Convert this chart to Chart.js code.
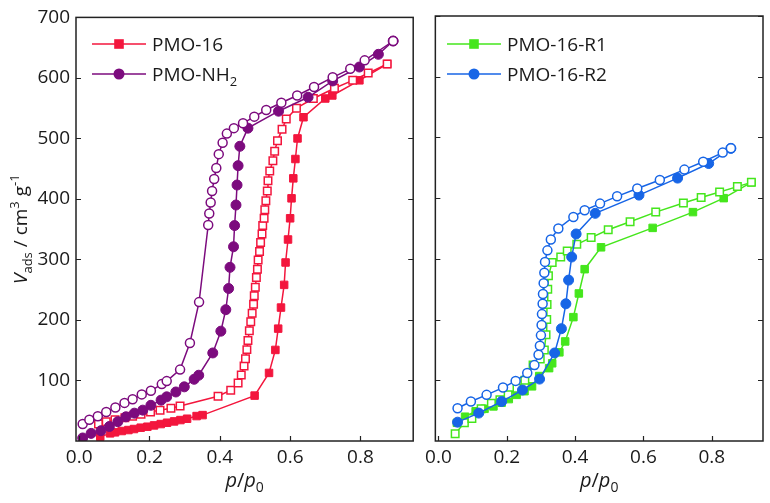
<!DOCTYPE html>
<html><head><meta charset="utf-8">
<script src="https://cdn.jsdelivr.net/npm/chart.js@4.4.0/dist/chart.umd.min.js"></script>
<style>
html,body{margin:0;padding:0;background:#fff;width:770px;height:503px;overflow:hidden}
#c1{position:absolute;left:0;top:0;width:420px;height:503px}
#c2{position:absolute;left:420px;top:0;width:350px;height:503px}
</style></head><body>
<canvas id="c1" width="420" height="503"></canvas>
<canvas id="c2" width="350" height="503"></canvas>
<script>
// ---- tick labels ----
const X_TICKS = [0, 0.2, 0.4, 0.6, 0.8];
const Y_TICKS = [100, 200, 300, 400, 500, 600, 700];

// ---- PMO-16 (adsorption filled, desorption open) ----
const P16_ADS_P = [0.060,0.088,0.102,0.121,0.140,0.156,0.175,0.194,0.213,0.232,0.250,0.270,0.288,0.307,0.334,0.351,0.499,0.540,0.558,0.566,0.574,0.583,0.587,0.594,0.600,0.604,0.609,0.615,0.621,0.638,0.700,0.720,0.797,0.876];
const P16_ADS_V = [7,12.6,14.3,16.5,18.1,19.8,22,23.6,25.8,28,30.2,32.4,34.6,36.8,41.2,42.8,75,112.5,150.5,185.7,220.5,258,295,333,368,401,434,466,500,535,566,571,596,623];
const P16_DES_P = [0.055,0.077,0.102,0.130,0.152,0.176,0.203,0.230,0.261,0.287,0.395,0.431,0.452,0.461,0.469,0.473,0.477,0.480,0.484,0.488,0.492,0.496,0.498,0.501,0.504,0.507,0.509,0.513,0.516,0.520,0.522,0.526,0.528,0.531,0.535,0.537,0.542,0.551,0.556,0.564,0.577,0.589,0.618,0.666,0.726,0.778,0.822,0.876];
const P16_DES_V = [28,32,35,38.4,41,44,48,51,54,58,74,84,96,109,124,136,151,166,182,197,211,226,240,254,270,284,299,313,328,342,356,368,382,397,413,430,446,463,479,496,515,532,550,566,583,596,608,623];

// ---- PMO-NH2 ----
const NH2_ADS_P = [0.010,0.034,0.062,0.086,0.110,0.133,0.157,0.181,0.204,0.233,0.249,0.275,0.299,0.327,0.340,0.380,0.403,0.417,0.425,0.429,0.439,0.442,0.446,0.449,0.452,0.457,0.480,0.567,0.651,0.721,0.797,0.851,0.893];
const NH2_ADS_V = [5,12.6,17,24,32,40,46,51,59,67.5,73,81,89.5,102,108.7,145.5,181.5,217,252,287,321,356,390,423,455,487,517,545,568,595,618,639,661];
const NH2_DES_P = [0.010,0.029,0.053,0.077,0.103,0.129,0.152,0.178,0.204,0.235,0.249,0.287,0.315,0.341,0.367,0.370,0.374,0.378,0.384,0.390,0.397,0.408,0.420,0.440,0.466,0.498,0.532,0.575,0.620,0.668,0.721,0.771,0.812,0.893];
const NH2_DES_V = [28,35,41,48,55.5,63,69,77,83,94,99,118,162,229.5,357,376,394,413,433,451,474,493,508,517,525,536,547,559,571,585,601,615,629,661];

// ---- PMO-16-R1 ----
const R1_ADS_P = [0.054,0.078,0.109,0.135,0.161,0.185,0.206,0.229,0.252,0.274,0.295,0.324,0.333,0.354,0.371,0.395,0.411,0.428,0.476,0.627,0.745,0.835,0.916];
const R1_ADS_V = [30,40,49,53,57,63,69,76,82,90,107,120,128,146,164,204,243,283,319,351,377,400,426];
const R1_DES_P = [0.049,0.076,0.098,0.125,0.155,0.180,0.204,0.230,0.253,0.277,0.298,0.310,0.315,0.317,0.318,0.320,0.322,0.333,0.358,0.377,0.405,0.447,0.497,0.561,0.636,0.717,0.769,0.823,0.875,0.916];
const R1_DES_V = [12,30,37,53,62,68,76,87,100,125,135,150,175,200,225,250,272,294,303,313,324,335,348,361,377,392,401,410,419,426];

// ---- PMO-16-R2 ----
const R2_ADS_P = [0.056,0.118,0.185,0.246,0.296,0.340,0.360,0.373,0.381,0.390,0.403,0.459,0.587,0.700,0.791,0.856];
const R2_ADS_V = [31,46,65,84,102,145,185,226,265,303,341,375,405,433,457,482];
const R2_DES_P = [0.056,0.095,0.141,0.189,0.226,0.260,0.281,0.293,0.297,0.300,0.302,0.303,0.305,0.306,0.308,0.310,0.312,0.319,0.329,0.351,0.395,0.428,0.473,0.523,0.582,0.648,0.720,0.775,0.832,0.856];
const R2_DES_V = [54,65,76,88,99,112,125,142,157,174,191,209,226,242,260,277,295,314,332,350,369,380,391,403,416,430,447,460,475,482];

const RED = '#f3163d', PURPLE = '#7c0b7e', GREEN = '#45e61c', BLUE = '#1765e6';
const FONT = "'Open Sans', sans-serif";
const TXT = '#1a1a1a';

Chart.defaults.font.family = FONT;
Chart.defaults.font.size = 19;
Chart.defaults.color = TXT;

function ds(P, V, color, style, filled) {
  const isRect = style === 'rect';
  return {
    data: P.map((x, i) => ({ x: x, y: V[i] })),
    showLine: true,
    borderColor: color,
    borderWidth: 1.5,
    backgroundColor: filled ? color : '#fff',
    pointStyle: style,
    pointRadius: isRect ? 5.3 : (filled ? 5 : 4.5),
    pointBorderWidth: filled ? 1 : 1.5,
    pointBackgroundColor: filled ? color : '#fff',
    pointBorderColor: color,
    tension: 0
  };
}

function richWidth(ctx, parts, size, small) {
  let w = 0;
  for (const p of parts) {
    ctx.font = (p.it ? 'italic ' : '') + ((p.sub || p.sup) ? small : size) + 'px ' + FONT;
    w += ctx.measureText(p.t).width;
  }
  return w;
}
function drawRich(ctx, parts, x, y, size, small, align) {
  let w = richWidth(ctx, parts, size, small);
  let cx = align === 'center' ? x - w / 2 : x;
  ctx.textBaseline = 'alphabetic';
  ctx.textAlign = 'left';
  ctx.fillStyle = TXT;
  for (const p of parts) {
    ctx.font = (p.it ? 'italic ' : '') + ((p.sub || p.sup) ? small : size) + 'px ' + FONT;
    const dy = p.sub ? 5 : (p.sup ? -8 : 0);
    ctx.fillText(p.t, cx, y + dy);
    cx += ctx.measureText(p.t).width;
  }
}

function framePlugin(showYTitle, legendItems, legendX) {
  return {
    id: 'frame',
    afterDatasetsDraw(chart) {
      const ctx = chart.ctx, a = chart.chartArea;
      const xs = chart.scales.x, ys = chart.scales.y;
      ctx.save();
      ctx.strokeStyle = '#222';
      ctx.lineWidth = 1.5;
      ctx.strokeRect(a.left, a.top, a.right - a.left, a.bottom - a.top);
      ctx.beginPath();
      const L = 5;
      for (const v of X_TICKS) {
        const px = Math.round(xs.getPixelForValue(v)) + 0.5;
        ctx.moveTo(px, a.bottom); ctx.lineTo(px, a.bottom - L);
      }
      for (const v of Y_TICKS) {
        const py = Math.round(ys.getPixelForValue(v)) + 0.5;
        ctx.moveTo(a.left, py); ctx.lineTo(a.left + L, py);
        ctx.moveTo(a.right, py); ctx.lineTo(a.right - L, py);
      }
      ctx.lineWidth = 1.2;
      ctx.stroke();

      // x title
      drawRich(ctx, [{t:'p',it:true},{t:'/'},{t:'p',it:true},{t:'0',sub:true}],
        (a.left + a.right) / 2, 487, 20, 14, 'center');
      // y title
      if (showYTitle) {
        ctx.save();
        ctx.translate(27, (a.top + a.bottom) / 2);
        ctx.rotate(-Math.PI / 2);
        drawRich(ctx, [{t:'V',it:true},{t:'ads',sub:true},{t:' / cm'},{t:'3',sup:true},{t:' g'},{t:'-1',sup:true}],
          0, 0, 19, 13, 'center');
        ctx.restore();
      }
      // legend
      legendItems.forEach((it, i) => {
        const y = 44 + i * 30;
        ctx.strokeStyle = it.color;
        ctx.lineWidth = 1.5;
        ctx.beginPath();
        ctx.moveTo(legendX, y); ctx.lineTo(legendX + 54, y);
        ctx.stroke();
        ctx.fillStyle = it.color;
        const mx = legendX + 27;
        if (it.style === 'rect') {
          ctx.fillRect(mx - 4.8, y - 4.8, 9.6, 9.6);
        } else {
          ctx.beginPath(); ctx.arc(mx, y, 5.5, 0, Math.PI * 2); ctx.fill();
        }
        drawRich(ctx, it.parts, legendX + 60, y + 7, 19, 13, 'left');
      });
      ctx.restore();
    }
  };
}

function makeChart(id, datasets, opts) {
  return new Chart(document.getElementById(id), {
    type: 'scatter',
    data: { datasets: datasets },
    options: {
      responsive: false,
      animation: false,
      devicePixelRatio: 1,
      events: [],
      layout: { padding: { left: 0, right: opts.padRight, top: 16, bottom: 0 } },
      plugins: { legend: { display: false }, tooltip: { enabled: false } },
      scales: {
        x: {
          type: 'linear', min: -0.009, max: 0.95,
          afterBuildTicks: s => { s.ticks = X_TICKS.map(v => ({ value: v })); },
          afterFit: s => { s.height = 62; },
          grid: { display: false, drawTicks: false },
          border: { display: false },
          ticks: { padding: 5, color: TXT, font: { size: 19 }, maxRotation: 0,
                   callback: v => Number(v).toFixed(1) }
        },
        y: {
          type: 'linear', min: 0, max: 700,
          afterBuildTicks: s => { s.ticks = Y_TICKS.map(v => ({ value: v })); },
          afterFit: s => { s.width = opts.yWidth; },
          grid: { display: false, drawTicks: false },
          border: { display: false },
          ticks: { display: opts.yLabels, padding: 6, color: TXT, font: { size: 19 } }
        }
      }
    },
    plugins: [framePlugin(opts.yLabels, opts.legend, opts.legendX)]
  });
}

makeChart('c1', [
  ds(NH2_DES_P, NH2_DES_V, PURPLE, 'circle', false),
  ds(NH2_ADS_P, NH2_ADS_V, PURPLE, 'circle', true),
  ds(P16_DES_P, P16_DES_V, RED, 'rect', false),
  ds(P16_ADS_P, P16_ADS_V, RED, 'rect', true)
], {
  padRight: 6, yWidth: 76, yLabels: true, legendX: 92,
  legend: [
    { color: RED, style: 'rect', parts: [{ t: 'PMO-16' }] },
    { color: PURPLE, style: 'circle', parts: [{ t: 'PMO-NH' }, { t: '2', sub: true }] }
  ]
});

makeChart('c2', [
  ds(R2_DES_P, R2_DES_V, BLUE, 'circle', false),
  ds(R2_ADS_P, R2_ADS_V, BLUE, 'circle', true),
  ds(R1_DES_P, R1_DES_V, GREEN, 'rect', false),
  ds(R1_ADS_P, R1_ADS_V, GREEN, 'rect', true)
], {
  padRight: 7, yWidth: 6, yLabels: false, legendX: 27,
  legend: [
    { color: GREEN, style: 'rect', parts: [{ t: 'PMO-16-R1' }] },
    { color: BLUE, style: 'circle', parts: [{ t: 'PMO-16-R2' }] }
  ]
});
</script>
</body></html>
